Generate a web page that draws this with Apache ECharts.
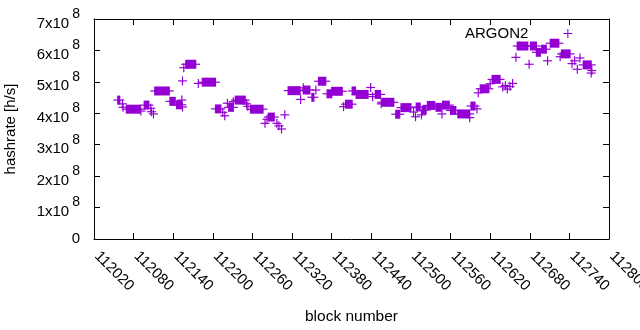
<!DOCTYPE html>
<html>
<head>
<meta charset="utf-8">
<script src="https://cdn.jsdelivr.net/npm/echarts@6/dist/echarts.min.js"></script>
<style>
  html, body { margin: 0; padding: 0; background: #fff; }
  #chart { width: 640px; height: 330px; }
</style>
</head>
<body>
<div id="chart"></div>
<script>
// runs of blocks with the same hashrate (a run of one block is a single "+")
var runStart = [112056, 112063, 112064, 112069, 112091, 112096, 112106, 112107, 112110, 112112,
  112135, 112145, 112153, 112154, 112154, 112156, 112159, 112178, 112184, 112204,
  112215, 112218, 112222, 112224, 112231, 112234, 112251, 112253, 112257, 112279,
  112282, 112284, 112297, 112300, 112304, 112309, 112314, 112333, 112337, 112337,
  112350, 112356, 112360, 112373, 112380, 112398, 112401, 112411, 112417, 112439,
  112442, 112446, 112455, 112456, 112477, 112485, 112504, 112507, 112508, 112516,
  112517, 112525, 112538, 112547, 112548, 112560, 112571, 112589, 112591, 112600,
  112602, 112605, 112620, 112623, 112639, 112643, 112646, 112650, 112654, 112659,
  112661, 112679, 112681, 112690, 112698, 112707, 112711, 112726, 112728, 112744,
  112748, 112752, 112756, 112761, 112774, 112773];
var runEnd = [112059, 112063, 112064, 112090, 112091, 112103, 112106, 112107, 112110, 112134,
  112143, 112153, 112153, 112154, 112154, 112156, 112174, 112178, 112204, 112212,
  112215, 112218, 112222, 112231, 112231, 112249, 112251, 112253, 112276, 112279,
  112282, 112293, 112297, 112300, 112304, 112309, 112332, 112333, 112337, 112347,
  112353, 112356, 112371, 112380, 112396, 112398, 112411, 112416, 112435, 112439,
  112442, 112454, 112455, 112474, 112483, 112500, 112504, 112507, 112514, 112516,
  112523, 112536, 112546, 112547, 112558, 112568, 112589, 112589, 112597, 112600,
  112602, 112618, 112620, 112635, 112639, 112643, 112646, 112650, 112654, 112659,
  112677, 112679, 112690, 112696, 112705, 112707, 112724, 112726, 112741, 112744,
  112748, 112752, 112756, 112773, 112774, 112773];
var hashrate = [4.42e8, 4.30e8, 4.19e8, 4.13e8, 4.07e8, 4.26e8, 4.16e8, 4.05e8, 3.98e8, 4.71e8,
  4.38e8, 4.27e8, 4.42e8, 4.20e8, 5.03e8, 5.45e8, 5.56e8, 4.95e8, 4.99e8, 4.14e8,
  4.03e8, 3.92e8, 4.32e8, 4.19e8, 4.37e8, 4.42e8, 4.30e8, 4.22e8, 4.13e8, 3.68e8,
  3.81e8, 3.88e8, 3.68e8, 3.60e8, 3.50e8, 3.95e8, 4.72e8, 4.44e8, 4.81e8, 4.74e8,
  4.51e8, 4.74e8, 5.02e8, 4.62e8, 4.70e8, 4.21e8, 4.29e8, 4.71e8, 4.60e8, 4.82e8,
  4.53e8, 4.60e8, 4.30e8, 4.35e8, 3.97e8, 4.18e8, 4.04e8, 3.89e8, 4.20e8, 3.95e8,
  4.10e8, 4.25e8, 4.19e8, 3.98e8, 4.26e8, 4.09e8, 3.98e8, 3.86e8, 4.23e8, 4.14e8,
  4.65e8, 4.78e8, 4.94e8, 5.08e8, 4.84e8, 4.88e8, 4.77e8, 4.85e8, 4.95e8, 5.78e8,
  6.14e8, 5.56e8, 6.14e8, 5.94e8, 6.04e8, 5.67e8, 6.23e8, 5.80e8, 5.89e8, 5.58e8,
  5.67e8, 5.40e8, 5.76e8, 5.54e8, 5.36e8, 5.28e8];

var xMin = 112020, xMax = 112800, xStep = 60;
var yMin = 0, yMax = 7e8, yStep = 1e8;

var purple = '#9400d3';
var fontName = 'Liberation Sans';
var plusPath = 'path://M4.4,0H5.6V4.4H10V5.6H5.6V10H4.4V5.6H0V4.4H4.4Z';

var rows = [];
for (var i = 0; i < hashrate.length; i++) {
  rows.push([runStart[i], runEnd[i], hashrate[i]]);
}

var myChart = echarts.init(document.getElementById('chart'));

var tickStyle = { inside: true, length: 6, lineStyle: { color: '#000', width: 1 } };
var lineStyle = { show: true, onZero: false, lineStyle: { color: '#000', width: 1 } };

var option = {
  animation: false,
  backgroundColor: '#fff',
  textStyle: { fontFamily: fontName },
  grid: { left: 94, right: 31, top: 19, bottom: 91, containLabel: false, outerBoundsMode: 'none' },
  legend: {
    data: [{ name: 'ARGON2', icon: plusPath }],
    left: 460,
    top: 21,
    align: 'right',
    itemWidth: 9,
    itemHeight: 9,
    textStyle: { fontFamily: fontName, fontSize: 15, color: '#000', padding: [0, 30, 0, 0] }
  },
  xAxis: [{
    type: 'value',
    min: xMin, max: xMax, interval: xStep,
    name: 'block number',
    nameLocation: 'middle',
    nameGap: 70,
    nameTextStyle: { fontFamily: fontName, fontSize: 15.5, color: '#000' },
    axisLine: lineStyle,
    axisTick: tickStyle,
    splitLine: { show: false },
    axisLabel: {
      rotate: -45, margin: 12,
      padding: [0, 0, 0, 4],
      fontFamily: fontName, fontSize: 15, color: '#000',
      formatter: function (v) { return String(v); }
    }
  }, {
    type: 'value', position: 'top',
    min: xMin, max: xMax, interval: xStep,
    axisLine: lineStyle, axisTick: tickStyle,
    splitLine: { show: false }, axisLabel: { show: false }
  }],
  yAxis: [{
    type: 'value',
    min: yMin, max: yMax, interval: yStep,
    name: 'hashrate [h/s]',
    nameLocation: 'middle',
    nameGap: 76,
    nameTextStyle: { fontFamily: fontName, fontSize: 15, color: '#000' },
    axisLine: lineStyle,
    axisTick: tickStyle,
    splitLine: { show: false },
    axisLabel: {
      margin: 14,
      color: '#000',
      formatter: function (v) {
        if (v === 0) return '{b|0}';
        return '{m|' + Math.round(v / 1e8) + 'x10}{s|8}';
      },
      rich: {
        b: { fontFamily: fontName, fontSize: 15, color: '#000' },
        m: { fontFamily: fontName, fontSize: 15, lineHeight: 24, color: '#000', verticalAlign: 'bottom' },
        s: { fontFamily: fontName, fontSize: 14, lineHeight: 15, color: '#000', padding: [0, 0, 0, 3], verticalAlign: 'top' }
      }
    }
  }, {
    type: 'value', position: 'right',
    min: yMin, max: yMax, interval: yStep,
    axisLine: lineStyle, axisTick: tickStyle,
    splitLine: { show: false }, axisLabel: { show: false }
  }],
  series: [{
    name: 'ARGON2',
    type: 'custom',
    clip: true,
    itemStyle: { color: purple },
    encode: { x: [0, 1], y: 2 },
    data: rows,
    renderItem: function (params, api) {
      var a = api.coord([api.value(0), api.value(2)]);
      var b = api.coord([api.value(1), api.value(2)]);
      var half = 4.5, arm = 4.5, t = 0.6;
      return {
        type: 'group',
        children: [{
          type: 'rect',
          shape: { x: a[0] - t, y: a[1] - half, width: b[0] - a[0] + 2 * t, height: 2 * half },
          style: { fill: purple }
        }, {
          type: 'rect',
          shape: { x: a[0] - arm, y: a[1] - t, width: b[0] - a[0] + 2 * arm, height: 2 * t },
          style: { fill: purple }
        }]
      };
    }
  }]
};

myChart.setOption(option);
</script>
</body>
</html>
